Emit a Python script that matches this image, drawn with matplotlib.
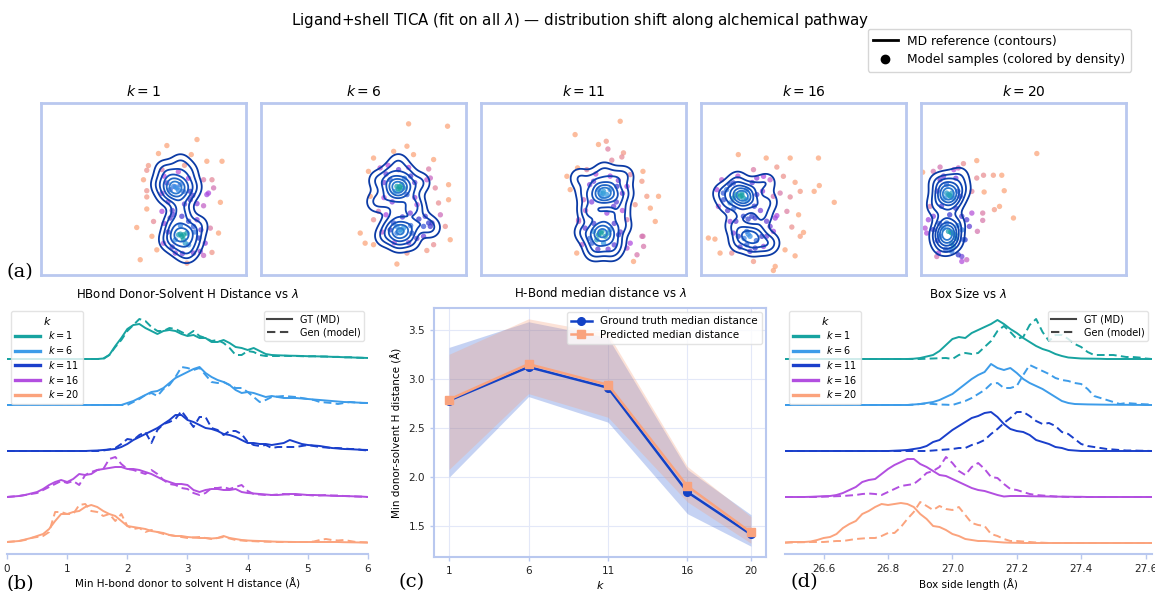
import numpy as np
import matplotlib
matplotlib.use('Agg')
import matplotlib.pyplot as plt
from matplotlib.colors import LinearSegmentedColormap
from matplotlib.lines import Line2D

plt.rcParams['font.family'] = ['DejaVu Sans']
W, H = 1155, 591

K_LABELS = [1, 6, 11, 16, 20]
RIDGE_COLORS = ['#17a3a0', '#3d9ce9', '#1a3fcb', '#b24fe0', '#fba37d']
FRAME = '#b9c8ef'

# ---------------- (a) TICA projections ----------------
samples_k1 = [(2.61,2.30),(1.14,2.02),(2.33,1.60),(3.09,1.29),(3.83,1.29),(0.24,1.09),(0.16,0.87),(0.0,0.43),
    (3.34,0.43),(3.42,0.05),(0.16,-0.37),(3.75,-0.62),(0.16,-0.93),(-0.33,-1.79),(3.26,-1.82),(3.66,-2.05),
    (0.41,-2.20),(0.65,-2.83),(-0.16,-3.29),(2.12,-3.45),(3.34,-2.95),(1.30,-1.35),(0.90,0.90),(2.93,0.43),
    (2.61,-1.43),(0.98,-2.52),(3.01,-2.52),(0.73,1.65),(0.16,-0.08),(2.28,-0.11),(2.61,-0.68),(2.93,-0.78),
    (0.49,-1.51),(1.95,-2.13),(2.69,-2.28),(2.77,-2.90),(2.93,-3.09),(1.55,-2.98),(2.44,-1.74),(0.90,-1.04),
    (2.28,-0.50),(3.09,-0.26),(3.17,-0.19),(1.47,0.12),(1.63,0.05),(1.30,-0.03),(1.79,0.20),(1.14,0.28),
    (1.95,-0.11),(1.71,-2.13),(1.87,-2.20),(2.12,-2.05),(1.55,-2.36),(2.44,-2.98),(2.04,-2.52),(1.47,-1.20),
    (1.87,-1.27),(1.55,0.10),(1.70,-0.05),(1.80,-2.10),(1.95,-2.35),
    (1.0,0.6),(2.2,0.5),(1.2,-0.6),(2.0,-0.7),(1.7,0.8),(0.9,-0.2),(2.4,-0.3),(1.4,-1.0),(2.2,-1.5),(1.2,-2.0),
    (2.5,-2.0),(1.4,-2.7),(2.2,-2.6),(1.8,-1.7),(1.0,-1.6),(2.8,-1.9),(1.9,-3.0),(2.0,1.1)]
samples_k6 = [(2.20,3.03),(4.10,2.92),(2.12,1.99),(2.44,1.60),(3.42,1.37),(0.24,0.82),(3.18,0.93),(3.26,0.51),
    (3.50,0.05),(4.15,0.20),(4.15,-0.50),(3.75,-1.20),(3.99,-1.74),(4.23,-2.36),(-0.16,-2.05),(0.08,-2.52),
    (0.49,-2.59),(1.63,-3.49),(2.12,-2.98),(3.09,-2.86),(0.81,0.98),(3.34,-1.58),(2.93,-2.20),(0.33,-0.34),
    (3.66,-0.65),(1.47,1.75),(0.73,-1.04),(1.63,-1.74),(2.61,-0.73),(2.36,-2.05),(0.49,-1.43),(3.18,-1.58),
    (1.63,0.12),(1.79,-0.03),(1.95,0.05),(1.55,-0.11),(1.87,0.20),(2.12,-0.26),(1.30,0.43),(1.71,0.90),
    (0.49,1.44),(3.09,0.43),(1.79,-1.89),(1.63,-2.05),(1.95,-1.82),(3.01,-1.27),(2.93,-1.74),(3.42,-2.59),
    (3.26,-1.74),(1.47,-1.58),(2.28,-1.12),(1.70,0.00),(1.85,-1.95),(1.75,0.10),(1.00,0.30),(2.50,0.30),
    (1.1,0.7),(2.3,0.6),(1.0,-0.4),(2.5,-0.4),(1.4,-0.6),(2.0,0.5),(1.2,1.1),(2.2,1.0),(1.3,-1.9),(2.3,-1.7),
    (1.5,-2.5),(2.2,-2.5),(0.9,-2.0),(2.7,-1.4),(1.9,-1.3),(1.1,-1.2),(2.6,-2.3)]
samples_k11 = [(1.79,3.15),(-0.41,2.53),(0.73,2.07),(1.11,2.22),(1.87,1.49),(1.38,1.34),(-0.81,0.59),(2.90,0.82),
    (2.85,0.36),(3.09,-0.34),(3.66,-0.34),(3.26,-0.89),(3.50,-1.51),(2.52,-0.73),(2.90,-2.20),(2.93,-2.67),
    (2.44,-3.37),(2.61,-3.06),(-0.33,-2.98),(-0.08,-2.59),(-0.65,-0.03),(2.12,-1.43),(1.19,1.86),(1.95,1.68),
    (-0.29,0.98),(0.16,0.90),(2.28,0.67),(2.12,0.12),(-0.24,-1.43),(1.14,-1.12),(2.85,-2.20),(2.12,-2.75),
    (2.28,-2.52),(0.41,-2.52),(0.08,-1.82),(1.47,-0.81),(0.81,-0.19),(0.98,-0.11),(1.14,-0.26),(0.73,-0.03),
    (1.30,-0.03),(0.90,-0.34),(0.49,0.36),(1.63,0.12),(0.90,-1.97),(0.73,-2.13),(1.06,-2.20),(1.71,-2.13),
    (0.65,-2.36),(1.30,-1.89),(0.98,-2.52),(0.49,-1.97),(-0.24,-1.51),(0.95,-0.20),(0.85,-2.05),(1.20,-2.05),
    (0.4,-0.6),(1.6,-0.6),(0.3,0.2),(1.7,0.4),(0.6,0.7),(1.3,0.6),(0.0,-0.5),(1.9,-0.2),(0.5,-1.6),(1.5,-1.6),
    (0.3,-2.3),(1.5,-2.6),(0.7,-2.8),(1.2,-2.8),(1.8,-2.0),(0.1,-1.0),(1.9,-1.0)]
samples_k16 = [(-3.18,1.60),(-1.82,1.44),(-0.65,1.44),(0.73,1.44),(-2.44,0.90),(-1.30,1.02),(-0.98,0.59),(-0.41,0.31),
    (-0.16,-0.11),(0.52,-0.11),(0.77,0.16),(1.50,-0.62),(-0.65,-0.37),(-0.24,-1.20),(-0.81,-1.04),(-0.57,-1.77),
    (-0.16,-2.20),(-0.41,-3.11),(-0.90,-2.83),(-1.38,-3.60),(-1.47,-3.79),(-2.44,-3.37),(-3.50,-2.98),(-4.07,-2.98),
    (-4.64,-2.28),(-4.32,-2.33),(-3.58,-1.51),(-4.15,-0.81),(-4.23,-0.03),(-1.14,-0.19),(-1.30,-1.24),(-3.99,0.43),
    (-3.42,0.28),(-2.28,0.51),(-1.63,0.43),(-2.77,-0.03),(-2.28,-0.26),(-1.38,-1.35),(-1.63,-1.74),(-3.42,-2.05),
    (-2.77,-2.59),(-2.36,-2.75),(-1.95,-2.67),(-2.93,-1.27),(-3.58,-0.65),(-3.09,-0.34),(-2.93,-0.42),(-3.26,-0.26),
    (-2.77,-0.50),(-3.42,-0.42),(-3.01,-0.19),(-3.75,-0.03),(-3.91,-0.19),(-1.47,-0.34),(-2.52,-1.27),(-2.36,-1.35),
    (-3.18,-2.20),(-2.03,-2.20),(-2.61,-2.20),(-2.61,-2.90),(-1.47,-1.97),(0.00,-2.02),(-1.95,0.59),(-2.77,-1.97),
    (-3.00,-0.30),(-2.70,-2.10),
    (-3.6,0.2),(-2.5,0.3),(-3.4,-0.9),(-2.4,-0.8),(-3.9,-0.5),(-2.0,-0.1),(-3.2,0.6),(-2.7,-1.4),(-3.3,-1.5),
    (-2.9,-2.3),(-2.3,-2.4),(-3.1,-2.7),(-1.8,-1.5),(-2.1,-1.0),(-1.8,-2.2),(-3.7,-1.0)]
samples_k20 = [(0.65,1.65),(-2.28,1.32),(-2.93,1.18),(-1.95,0.64),(-1.47,0.64),(-1.06,0.64),(-2.28,0.51),(-0.94,-0.08),
    (-1.92,-0.14),(-1.17,-0.81),(-1.42,-0.96),(-0.49,-1.35),(-1.99,-1.12),(-1.99,-1.46),(-2.25,-1.97),(-4.92,0.78),
    (-4.80,-1.82),(-4.72,-2.05),(-4.23,-3.14),(-3.01,-3.14),(-2.52,-1.12),(-2.64,-1.74),(-4.56,-0.81),(-4.64,-1.43),
    (-2.85,-2.36),(-4.07,1.02),(-4.40,0.82),(-3.18,0.98),(-2.52,-0.11),(-3.09,-0.34),(-4.40,-1.27),(-3.01,-1.27),
    (-2.77,-1.43),(-4.07,-2.20),(-2.93,-2.36),(-3.58,-2.83),(-3.18,-3.06),(-2.77,-3.29),(-3.01,-3.37),(-4.15,-2.98),
    (-3.42,-2.67),(-3.66,-0.26),(-3.58,-0.34),(-3.75,-0.19),(-3.50,-0.19),(-3.83,-0.42),(-3.42,-0.42),(-4.07,0.43),
    (-3.75,0.20),(-3.50,-2.05),(-3.66,-1.97),(-3.34,-2.13),(-3.91,-1.82),(-3.75,-1.58),(-3.50,-2.52),(-4.40,-1.89),
    (-3.60,-0.30),(-3.55,-2.00),
    (-4.2,-0.1),(-3.2,-0.1),(-3.9,0.6),(-3.3,0.5),(-4.0,-0.8),(-3.3,-0.9),(-3.6,-1.2),(-4.1,-1.6),(-3.2,-1.7),
    (-4.2,-2.4),(-3.3,-2.3),(-3.8,-2.8),(-3.5,-2.9),(-3.0,-1.9),(-3.4,0.9)]

md_k1 = [(1.5,0.1),(1.6,0.2),(1.7,0.0),(1.4,0.0),(1.6,-0.1),(1.2,0.4),(2.0,0.3),(1.1,-0.3),(2.1,-0.3),(1.5,0.7),
    (1.7,-0.6),(0.8,0.2),(2.4,0.1),(1.8,1.2),(1.0,0.9),(2.2,0.8),(1.8,-2.1),(2.0,-2.2),(1.9,-2.0),(1.6,-2.3),
    (2.2,-1.9),(1.4,-1.9),(2.5,-2.3),(1.7,-2.7),(2.3,-2.7),(1.2,-2.4),(2.7,-1.7),(1.5,-1.5),(2.1,-3.0),(1.8,-1.0),(2.0,-1.3)]
md_k6 = [(1.7,0.1),(1.8,0.0),(1.6,0.0),(1.9,0.2),(1.5,0.3),(1.7,-0.3),(1.2,0.1),(2.3,0.1),(1.3,0.7),(2.1,0.7),
    (1.1,-0.5),(2.4,-0.5),(0.7,0.4),(2.8,0.3),(1.7,1.2),(0.6,-0.6),(1.8,-1.9),(1.7,-2.0),(1.9,-1.8),(1.5,-2.1),
    (2.1,-2.0),(1.3,-1.7),(2.4,-1.7),(1.7,-2.5),(2.3,-2.4),(1.0,-2.2),(2.9,-1.6),(3.3,-1.8),(1.6,-1.1),(2.2,-1.0),(2.6,-0.9)]
md_k11 = [(1.0,-0.2),(1.1,-0.1),(0.9,-0.3),(1.2,-0.3),(0.8,0.0),(1.4,0.0),(0.6,-0.4),(1.6,-0.5),(0.5,0.4),(1.5,0.5),
    (0.1,-0.2),(2.0,-0.2),(1.0,0.8),(-0.2,0.5),(2.0,0.6),(0.2,-0.9),(1.8,-1.0),(0.9,-2.0),(0.8,-2.1),(1.0,-1.9),
    (1.1,-2.2),(0.6,-1.9),(1.4,-2.0),(0.4,-2.4),(1.6,-2.5),(0.9,-2.7),(0.0,-2.0),(1.9,-1.7),(0.5,-2.9),(1.4,-2.9),
    (0.9,-1.2),(1.3,-1.3),(0.3,-1.2)]
md_k16 = [(-3.0,-0.3),(-2.9,-0.4),(-3.1,-0.4),(-3.0,-0.2),(-2.8,-0.3),(-3.3,-0.3),(-2.6,-0.5),(-3.5,0.0),(-2.4,0.1),
    (-3.7,-0.7),(-2.2,-0.8),(-3.2,0.4),(-1.8,0.3),(-4.0,-0.2),(-1.7,-0.6),(-3.0,-1.1),(-2.0,-1.3),(-2.6,-2.1),
    (-2.8,-2.2),(-2.4,-2.3),(-3.0,-2.0),(-2.2,-2.1),(-3.2,-2.5),(-2.5,-2.7),(-1.9,-2.6),(-1.6,-2.5),(-3.4,-1.7)]
md_k20 = [(-3.7,-0.25),(-3.6,-0.3),(-3.8,-0.2),(-3.5,-0.2),(-3.7,-0.4),(-3.9,0.0),(-3.4,0.1),(-4.1,-0.4),(-3.3,-0.5),
    (-3.7,0.4),(-4.2,0.3),(-3.0,0.0),(-3.6,-0.9),(-4.3,-0.8),(-3.1,0.6),(-3.75,-2.05),(-3.7,-2.1),(-3.8,-2.0),
    (-3.6,-2.2),(-3.9,-1.9),(-3.5,-1.9),(-4.1,-2.2),(-3.4,-2.4),(-3.7,-2.6),(-4.0,-2.6),(-3.3,-1.6),(-3.9,-1.4)]

SAMPLES = [samples_k1, samples_k6, samples_k11, samples_k16, samples_k20]
MD_REF = [md_k1, md_k6, md_k11, md_k16, md_k20]

# ---------------- (b) H-bond distance ridges ----------------
b_x = np.round(np.arange(0.0, 6.0001, 0.1), 2)
b_gt_k1 = [0,0,0,0,0,0,0,0,0,0,0,0,0,0,0,0, 0.5,4,13,21,30,34,35,31,28,25,28,29,28,25,23,24,21,21,17,17,19,16,12,11,9,
           11,8,5,4,3.7,3.5,3.3,3.2,3,2.8,2.7,2.6,2.4,2.2,2,1.8,1.6,1.4,1.2,1]
b_gen_k1 = [0,0,0,0,0,0,0,0,0,0,0,0,0,0,0,0,0, 4,12,19,28,34,40,38,32,28,28,31,30,27,24,28,23,21,18,19,16,11,4,4,8,7,
            4,3,3,3,3.2,3,3,2.8,2.6,2.8,2.4,2.5,2,2.2,1.6,1.8,1.3,1.2,0.8]
b_gt_k6 = [0,0,0,0,0,0,0,0,0,0,0,0,0,0,0,0,0,0,0,0, 2,4,7,10,13,14,17,22,27,30,33,36,38,32,28,25,23,20,15,12,13,12,10,8,
           9,8,7,7,7,6.5,6,5.5,5,4.5,4,3.5,3,2.8,2.5,2.2,2]
b_gen_k6 = [0,0,0,0,0,0,0,0,0,0,0,0,0,0,0,0,0,0,0,0,0, 3,6,10,12,9,16,20,28,38,37,35,37,30,23,22,23,20,17,17,13,8,3,5,
            8,8.5,9,8.5,8,7,6,5,3,2.5,2,1,2,3,2.5,2,2]
b_gt_k11 = [0,0,0,0,0,0,0,0,0,0,0,0,0,0, 0.3,0.5,1,1.5,2,4,7,11,14,17,20,23,27,31,36,36,31,29,26,23,22,20,17,16,14,11,
            8,8,7,7,6,7,8,11,9,7,6,5.5,5,4,3,2.5,2,1.8,1.5,1.2,1]
b_gen_k11 = [0,0,0,0,0,0,0,0,0,0,0,0,0,0,0,0, 0.5,1.5,3,7,12,11,16,19,8,21,27,29,32,40,32,24,34,34,23,21,16,20,20,17,
             9,6,5,6,3,4,4,4,4,5,6,5,4,3.5,3,3,2.5,2,2,1,0.5]
b_gt_k16 = [0,0.5,1,2,3.5,5,8,12,15,17,15,18,23,22,23,27,28,29,30,30,28,28,27,25,23,20,17,15,13,13,12,7,5,7,8,8,7,7,8,
            5,4,3.5,3,2.5,2,2,2.5,3,3,2.5,2,2,1.8,1.5,1.2,1,1,0.8,0.6,0.4,0]
b_gen_k16 = [0,0.5,1,2,3,4,7,10,13,16,14,16,12,22,25,27,28,38,40,33,28,27,25,23,27,23,17,13,12,9,8,4,2,4,9,9,10,8,10,
             12,6,3,2.5,2,2,2.5,3,2.5,2,2,2,1.5,1.5,2,1.5,1.5,1,0.8,0.5,0.3,0]
b_gt_k20 = [1,1.5,2,3.5,5,7,9,14,22,29,29,31,32,36,38,36,32,29,27,22,17,16,15,14,12,11,10,8,7,7,6,5.5,5,5,4.5,5,7,5,4,
            3,2.5,2.2,2,1.8,1.5,1.3,1.2,1.1,1,1,1,1,1,1,1,1,0.8,0.7,0.6,0.5,0.4]
b_gen_k20 = [1,1.5,2,3,5,6,7,11,31,31,29,29,38,39,32,31,27,29,22,29,17,14,15,11,13,11,9,8,7,6,5,5.5,6,5,4,5,6,4.5,3,
             2.5,2,1.8,1.5,1.3,1.2,1,1,1,1,1,1,1.5,3,4,3,2.5,3,2,1,0.8,0.6]
B_GT = [b_gt_k1, b_gt_k6, b_gt_k11, b_gt_k16, b_gt_k20]
B_GEN = [b_gen_k1, b_gen_k6, b_gen_k11, b_gen_k16, b_gen_k20]

# ---------------- (c) median distance ----------------
c_k = [1, 6, 11, 16, 20]
c_gt_median = [2.78, 3.12, 2.91, 1.85, 1.42]
c_gt_lo = [2.00, 2.82, 2.56, 1.63, 1.30]
c_gt_hi = [3.32, 3.58, 3.42, 2.08, 1.62]
c_pred_median = [2.79, 3.15, 2.94, 1.91, 1.44]
c_pred_lo = [2.08, 2.85, 2.61, 1.75, 1.33]
c_pred_hi = [3.25, 3.61, 3.46, 2.11, 1.60]

# ---------------- (d) box size ridges ----------------
d_x = np.round(np.arange(26.48, 27.6201, 0.02), 2)
d_gt_k1 = [0,0,0,0,0,0,0,0,0,0,0,0,0,0,0,0,0,0,0,0, 0.3,1,2.5,4,8,14,20,22,21,26,29,32,35,39,35,30,26,21,17,
           13,10,8,5,3,1.5,1,0.5,0.4,0.3,0.2, 0,0,0,0,0,0,0,0]
d_gen_k1 = [0,0,0,0,0,0,0,0,0,0,0,0,0,0,0,0,0,0,0,0,0,0, 0.3,0.5,0.8,1,0,4,6,5,6,12,18,28,33,27,20,22,34,40,27,18,24,
            24,20,15,12,7,4,4,4,4,3,2,2,1.5,0.5,0]
d_gt_k6 = [0,0,0,0,0,0,0,0,0,0,0,0,0,0,0,0,0,0,0,0, 0.5,1,2,3,5,8,11,16,21,26,30,33,41,37,35,37,32,26,22,19,16,12,8,
           4,2,1,0.8,0.6,0.5,0.4,0.3,0.3,0.2,0.2,0.1,0.1,0,0]
d_gen_k6 = [0,0,0,0,0,0,0,0,0,0,0,0,0,0,0,0,0,0,0,0, 0.3,1,1.5,1,0.5,0.3,0,2,4,7,11,15,21,22,17,17,19,30,40,37,34,31,
            27,25,24,22,21,16,9,7,5,3,1,2,1.5,1,0.7,0.5]
d_gt_k11 = [0,0,0,0,0,0,0,0,0,0,0,0,0,0,0,0,0, 0.3,0.6,1,2,3,5,9,11,16,21,25,29,33,35,38,39,34,27,22,20,19,16,11,9,
            7,4,3,1,0.5, 0,0,0,0,0,0,0,0,0,0,0,0]
d_gen_k11 = [0,0,0,0,0,0,0,0,0,0,0,0,0,0,0,0,0,0,0,0,0,0,0, 0.5,1,1.5,2,3,3,6,8,11,17,22,28,33,39,39,35,30,27,28,25,
             19,17,12,7,5,4,3,2,1.5,1,0.5,0.5,0.3,0.2,0]
d_gt_k16 = [0,0,0,0,0.2,0.5,0.8,1,2,4,7,10,15,17,18,23,28,32,35,38,38,33,30,26,22,21,18,15,12,9,7,6,4,2,0.5,1,1,1,
            0.8,0.7,0.6,0.5,0.4,0.3,0.3,0.2,0.2, 0,0,0,0,0,0,0,0,0,0,0]
d_gen_k16 = [0,0,0,0,0,0, 0.3,0.5,0.8,1,1.5,2,3,3.5,3,2,5,8,11,12,13,18,24,26,30,40,34,26,22,30,34,28,20,19,13,8,7,5,
             3,2,1.5,1,0.5,0.3, 0,0,0,0,0,0,0,0,0,0,0,0,0,0]
d_gt_k20 = [0.5,1,1,1,1.5,3,5,6,9,15,19,22,29,32,36,39,38,39,40,39,36,29,24,17,16,13,9,7,4,3,2,2,1.5,1,0.5,0.3,0.2,
            0,0,0,0,0,0,0,0,0,0,0,0,0,0,0,0,0,0,0,0,0]
d_gen_k20 = [0.3,0.5,0.7,0.8,1,1,1,1.5,2,2,3,4,4.5,5,5,7,10,10,16,24,31,41,37,33,37,34,33,36,28,20,18,17,9,7,4,2,2,1.5,
             1,0.5,0.3, 0,0,0,0,0,0,0,0,0,0,0,0,0,0,0,0,0]
D_GT = [d_gt_k1, d_gt_k6, d_gt_k11, d_gt_k16, d_gt_k20]
D_GEN = [d_gen_k1, d_gen_k6, d_gen_k11, d_gen_k16, d_gen_k20]

RIDGE_STEP = 46


def px_axes(fig, x0, y0, x1, y1):
    return fig.add_axes([x0 / W, 1 - y1 / H, (x1 - x0) / W, (y1 - y0) / H])


def point_density(xy, bw=0.45):
    d2 = ((xy[:, None, :] - xy[None, :, :]) ** 2).sum(-1)
    return np.exp(-0.5 * d2 / bw ** 2).sum(1)


def kde_grid(xy, xs, ys, bw=0.32):
    X, Y = np.meshgrid(xs, ys)
    Z = np.zeros_like(X)
    for px_, py_ in xy:
        Z += np.exp(-((X - px_) ** 2 + (Y - py_) ** 2) / (2 * bw ** 2))
    return X, Y, Z


fig = plt.figure(figsize=(W / 100, H / 100), dpi=100)

fig.text(0.502, 1 - 20 / H, r'Ligand+shell TICA (fit on all $\lambda$) — distribution shift along alchemical pathway',
         ha='center', va='center', fontsize=10.8)

density_cmap = LinearSegmentedColormap.from_list(
    'dens', [(0.0, '#fca67c'), (0.16, '#fca67c'), (0.38, '#b24fe0'), (0.62, '#3a3fd0'),
             (0.82, '#3d9ce9'), (1.0, '#17a3a0')])
contour_cmap = LinearSegmentedColormap.from_list('cont', ['#0b3aa5', '#0f46b5', '#2d7bd0'])
LEVEL_FRACS = [0.08, 0.2, 0.34, 0.5, 0.66, 0.82]

lefts = [41, 261, 481, 701, 921]
gx = np.linspace(-5, 5, 250)
gy = np.linspace(-4, 4, 200)
for i, k in enumerate(K_LABELS):
    ax = px_axes(fig, lefts[i], 103, lefts[i] + 205, 275)
    pts = np.array(SAMPLES[i], dtype=float)
    dens = point_density(pts)
    dn = (dens - dens.min()) / (dens.max() - dens.min())
    order = np.argsort(dn)
    ax.scatter(pts[order, 0], pts[order, 1], c=dn[order], cmap=density_cmap, vmin=0, vmax=1,
               s=15, alpha=0.75, linewidths=0, zorder=2)
    md = np.array(MD_REF[i], dtype=float)
    X, Y, Z = kde_grid(md, gx, gy)
    lv = Z.max() * np.array(LEVEL_FRACS)
    cols = [contour_cmap(t) for t in np.linspace(0, 1, len(lv))]
    ax.contour(X, Y, Z, levels=lv, colors=cols, linewidths=1.3, zorder=3)
    ax.set_xlim(-5, 5)
    ax.set_ylim(-4, 4)
    ax.set_xticks([])
    ax.set_yticks([])
    for s in ax.spines.values():
        s.set_color(FRAME)
        s.set_linewidth(2)
    ax.set_title(rf'$k = {k}$', fontsize=10, pad=5)

fig.legend(handles=[Line2D([], [], color='black', lw=2, label='MD reference (contours)'),
                    Line2D([], [], color='black', marker='o', ls='none', ms=6,
                           label='Model samples (colored by density)')],
           loc='upper right', bbox_to_anchor=(1131 / W, 1 - 29 / H), borderaxespad=0, fontsize=8.8, frameon=True,
           edgecolor='#cccccc', borderpad=0.45, labelspacing=0.45, handlelength=2.0)


def ridge_axes(ax, x, gts, gens, xlim, xticks, xticklabels, title, xlabel):
    for j, k in enumerate(K_LABELS):
        off = (len(K_LABELS) - 1 - j) * RIDGE_STEP
        ax.plot(x, np.array(gts[j]) + off, color=RIDGE_COLORS[j], lw=1.4, solid_joinstyle='round')
        ax.plot(x, np.array(gens[j]) + off, color=RIDGE_COLORS[j], lw=1.4, ls=(0, (4, 2.2)))
    ax.set_xlim(*xlim)
    ax.set_ylim(-11, 238)
    ax.set_yticks([])
    for s in ['left', 'right', 'top']:
        ax.spines[s].set_visible(False)
    ax.spines['bottom'].set_color(FRAME)
    ax.spines['bottom'].set_linewidth(1.5)
    ax.set_xticks(xticks)
    ax.set_xticklabels(xticklabels)
    ax.tick_params(axis='x', colors=FRAME, labelcolor='#222222', labelsize=7.5, length=3.5, width=1)
    ax.set_title(title, fontsize=8.5, pad=5)
    ax.set_xlabel(xlabel, fontsize=7.5, labelpad=3)
    kh = [Line2D([], [], color=RIDGE_COLORS[j], lw=2.4, label=rf'$k = {k}$') for j, k in enumerate(K_LABELS)]
    leg1 = ax.legend(handles=kh, title=r'$k$', loc='upper left', bbox_to_anchor=(0.012, 0.975), borderaxespad=0,
                     fontsize=7, title_fontsize=8, labelspacing=0.28, handlelength=2.6, borderpad=0.35,
                     handletextpad=0.8, edgecolor='#dddddd')
    ax.add_artist(leg1)
    sh = [Line2D([], [], color='#444444', lw=1.5, label='GT (MD)'),
          Line2D([], [], color='#444444', lw=1.5, ls=(0, (4, 2.2)), label='Gen (model)')]
    ax.legend(handles=sh, loc='upper right', bbox_to_anchor=(0.99, 0.975), borderaxespad=0, fontsize=7,
              labelspacing=0.3, handlelength=2.6, borderpad=0.35, edgecolor='#dddddd')


ax_b = px_axes(fig, 7, 305, 368, 554)
ridge_axes(ax_b, b_x, B_GT, B_GEN, (0, 6), [0, 1, 2, 3, 4, 5, 6], ['0', '1', '2', '3', '4', '5', '6'],
           r'HBond Donor-Solvent H Distance vs $\lambda$', 'Min H-bond donor to solvent H distance (Å)')

ax_d = px_axes(fig, 785, 305, 1152, 554)
dt = [26.6, 26.8, 27.0, 27.2, 27.4, 27.6]
ridge_axes(ax_d, d_x, D_GT, D_GEN, (26.48, 27.62), dt, [f'{v:.1f}' for v in dt],
           r'Box Size vs $\lambda$', 'Box side length (Å)')

# (c)
ax_c = px_axes(fig, 434, 308, 766, 557)
ax_c.fill_between(c_k, c_gt_lo, c_gt_hi, color='#1a4fd0', alpha=0.25, lw=0, zorder=1)
ax_c.fill_between(c_k, c_pred_lo, c_pred_hi, color='#f7a07c', alpha=0.3, lw=0, zorder=1)
ax_c.plot(c_k, c_gt_median, color='#1342c6', marker='o', ms=5.5, lw=1.8, zorder=3,
          label='Ground truth median distance')
ax_c.plot(c_k, c_pred_median, color='#f9a37e', marker='s', ms=6, lw=1.8, zorder=4,
          label='Predicted median distance')
ax_c.set_xlim(0.05, 20.95)
ax_c.set_ylim(1.19, 3.72)
ax_c.set_xticks(c_k)
ax_c.set_yticks([1.5, 2.0, 2.5, 3.0, 3.5])
ax_c.grid(True, color='#e3e8f8', lw=0.8, zorder=0)
ax_c.set_axisbelow(True)
for s in ax_c.spines.values():
    s.set_color(FRAME)
    s.set_linewidth(1.5)
ax_c.tick_params(colors=FRAME, labelcolor='#222222', labelsize=7.5, length=3, width=1)
ax_c.set_title(r'H-Bond median distance vs $\lambda$', fontsize=8.5, pad=8)
ax_c.set_xlabel(r'$k$', fontsize=8, labelpad=2)
ax_c.set_ylabel('Min donor-solvent H distance (Å)', fontsize=7.5, labelpad=4)
ax_c.legend(loc='upper right', fontsize=7.5, borderpad=0.4, labelspacing=0.35, handlelength=2.0,
            edgecolor='#dddddd', borderaxespad=0.4)

# panel letters
for txt, x, y in [('(a)', 7, 272), ('(b)', 7, 584), ('(c)', 399, 582), ('(d)', 791, 582)]:
    fig.text(x / W, 1 - y / H, txt, family='DejaVu Serif', fontsize=14, ha='left', va='center')

fig.savefig('out.png', dpi=100)
